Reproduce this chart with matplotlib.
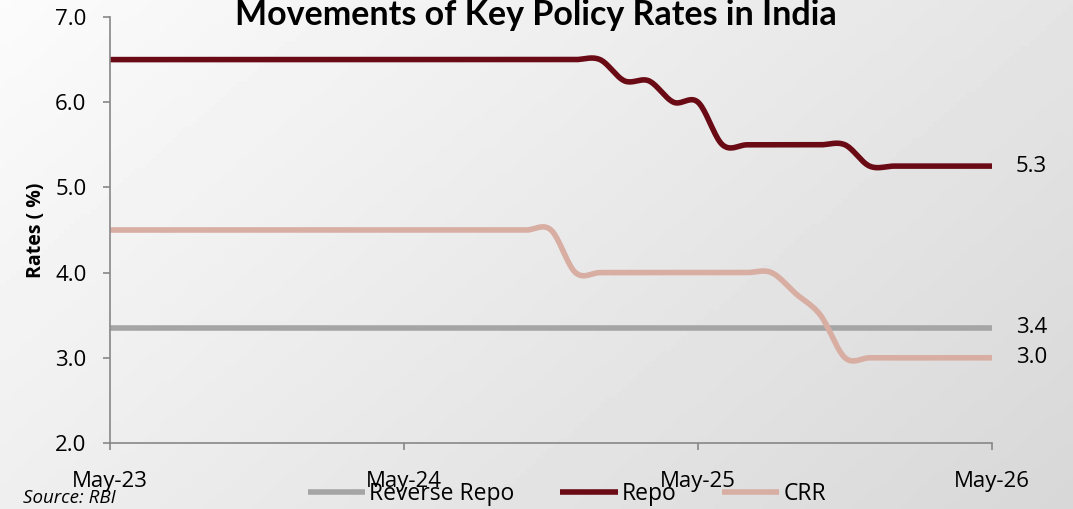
import numpy as np
import matplotlib
matplotlib.use("Agg")
import matplotlib.pyplot as plt
from decimal import Decimal, ROUND_HALF_UP

# monthly series, May-23 .. May-26
months = ["May-23", "Jun-23", "Jul-23", "Aug-23", "Sep-23", "Oct-23", "Nov-23", "Dec-23",
          "Jan-24", "Feb-24", "Mar-24", "Apr-24", "May-24", "Jun-24", "Jul-24", "Aug-24",
          "Sep-24", "Oct-24", "Nov-24", "Dec-24", "Jan-25", "Feb-25", "Mar-25", "Apr-25",
          "May-25", "Jun-25", "Jul-25", "Aug-25", "Sep-25", "Oct-25", "Nov-25", "Dec-25",
          "Jan-26", "Feb-26", "Mar-26", "Apr-26", "May-26"]
reverse_repo = [3.35] * 37
repo = [6.5] * 21 + [6.25, 6.25, 6.0, 6.0] + [5.5] * 6 + [5.25] * 6
crr = [4.5] * 19 + [4.0] * 9 + [3.75, 3.5] + [3.0] * 7
tick_labels = ["May-23", "May-24", "May-25", "May-26"]

series = [("Reverse Repo", reverse_repo, "#a5a5a5"),
          ("Repo", repo, "#6a0a14"),
          ("CRR", crr, "#d8ada2")]


def smooth(x, y, n=20):
    # Catmull-Rom curve through every point (spreadsheet-style smoothed line)
    x = np.asarray(x, float)
    y = np.asarray(y, float)
    px = np.concatenate([[x[0]], x, [x[-1]]])
    py = np.concatenate([[y[0]], y, [y[-1]]])
    t = np.linspace(0, 1, n, endpoint=False)
    xs, ys = [], []
    for i in range(1, len(px) - 2):
        for p, out in ((px, xs), (py, ys)):
            p0, p1, p2, p3 = p[i - 1], p[i], p[i + 1], p[i + 2]
            c1 = p1 + (p2 - p0) / 6
            c2 = p2 - (p3 - p1) / 6
            out.append((1 - t) ** 3 * p1 + 3 * (1 - t) ** 2 * t * c1
                       + 3 * (1 - t) * t ** 2 * c2 + t ** 3 * p2)
    xs.append([x[-1]])
    ys.append([y[-1]])
    return np.concatenate(xs), np.concatenate(ys)


def fmt(v):
    return str(Decimal(str(v)).quantize(Decimal("0.1"), rounding=ROUND_HALF_UP))


plt.rcParams["font.family"] = ["Open Sans", "DejaVu Sans"]

fig = plt.figure(figsize=(10.73, 5.09), dpi=100)

# soft grey backdrop
bg = fig.add_axes([0, 0, 1, 1], zorder=-5)
gx, gy = np.meshgrid(np.linspace(0, 1, 200), np.linspace(0, 1, 100))
shade = 0.985 - 0.09 * gx - 0.05 * gy
bg.imshow(shade, cmap="gray", vmin=0, vmax=1, aspect="auto", extent=[0, 1, 0, 1])
bg.axis("off")

ax = fig.add_axes([110 / 1073, 1 - 443 / 509, 882 / 1073, 426 / 509])
ax.patch.set_alpha(0)

x = np.arange(len(months))
for name, vals, color in series:
    sx, sy = smooth(x, vals)
    ax.plot(sx, sy, color=color, lw=4.0, label=name, solid_capstyle="butt")
    ax.annotate(fmt(vals[-1]), (x[-1], vals[-1]), xytext=(17, 0),
                textcoords="offset points", va="center", ha="left", fontsize=16)

ax.set_xlim(0, len(months) - 1)
ax.set_ylim(2.0, 7.0)
ax.set_xticks([months.index(m) for m in tick_labels])
ax.set_xticklabels(tick_labels, fontsize=16)
ax.set_yticks(np.arange(2.0, 7.01, 1.0))
ax.set_yticklabels([f"{v:.1f}" for v in np.arange(2.0, 7.01, 1.0)], fontsize=16)
for s in ["top", "right"]:
    ax.spines[s].set_visible(False)
for s in ["left", "bottom"]:
    ax.spines[s].set_color("#878787")
    ax.spines[s].set_linewidth(1.2)
ax.tick_params(axis="y", length=5, width=1.2, color="#878787", pad=12)
ax.tick_params(axis="x", length=5, width=1.2, color="#878787", pad=15)
ax.set_ylabel("Rates ( %)", fontsize=14, fontweight="bold")
ax.yaxis.set_label_coords(-64 / 882, 0.5)

fig.text(536 / 1073, 1 - 25 / 509, "Movements of Key Policy Rates in India",
         ha="center", va="baseline", fontsize=24.5, fontweight="bold",
         family=["Lato", "DejaVu Sans"])
fig.text(23 / 1073, 1 - 503 / 509, "Source: RBI", fontsize=13.5, style="italic",
         ha="left", va="baseline")

fig.legend(loc="center", bbox_to_anchor=(567 / 1073, 1 - 494 / 509), ncol=3,
           frameon=False, fontsize=16.5, handlelength=2.5, handletextpad=0.17,
           columnspacing=2.0, borderpad=0, borderaxespad=0)

fig.savefig("out.png", dpi=100)
